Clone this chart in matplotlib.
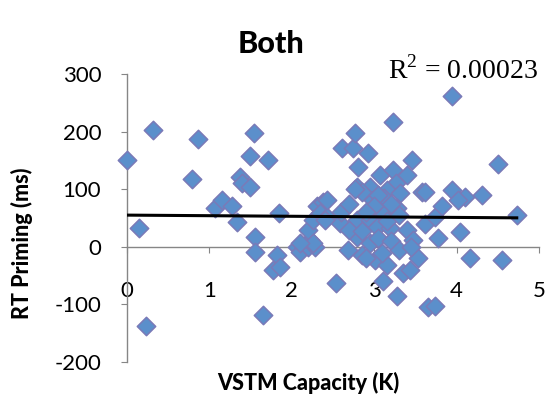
import numpy as np
import matplotlib
matplotlib.use("Agg")
import matplotlib.pyplot as plt

# VSTM capacity (K) vs RT priming (ms)
vstm_k = [0.00, 0.15, 0.32, 0.23, 0.86, 0.79,
          1.07, 1.15, 1.27, 1.33, 1.37, 1.40, 1.49, 1.49, 1.54, 1.55, 1.55, 1.71, 1.65,
          1.84, 1.82, 1.77, 1.86, 2.06, 2.10, 2.20, 2.28, 2.22, 2.20, 2.26, 2.31, 2.38,
          2.34, 2.43, 2.54, 2.61, 2.74, 2.77, 2.92, 2.80, 3.23, 3.07, 3.46, 3.23, 3.40,
          3.27, 2.79, 2.95, 3.16, 3.31, 3.58, 2.43, 2.99, 3.12, 2.58, 2.40, 2.79, 2.95,
          3.11, 3.28, 3.03, 3.19, 3.40, 3.47, 3.62, 3.74, 3.77, 2.79, 2.95, 2.68, 2.85,
          3.01, 3.16, 3.35, 3.43, 3.53, 3.11, 3.28, 3.65, 3.74, 2.26, 2.10, 2.85, 3.05,
          3.20, 3.00, 2.90, 3.15, 3.30, 2.70, 2.85, 3.05, 3.20, 3.30, 2.90, 3.10, 3.45,
          2.60, 2.70, 2.77, 3.94, 4.50, 3.62, 3.94, 4.10, 4.31, 4.02, 3.82, 4.04, 4.73,
          4.16, 4.55]
rt_priming = [151, 32, 202, -138, 188, 117,
              68, 82, 70, 43, 122, 110, 103, 158, 198, 17, -9, 150, -118,
              59, -14, -40, -35, 0, -9, 0, 0, 12, 30, 47, 70, 78,
              59, 52, -63, 172, 172, 198, 163, 139, 216, 125, 150, 134, 125,
              111, 103, 104, 99, 94, 96, 82, 82, 85, 42, 47, 47, 47,
              59, 68, 35, 33, 30, 12, 40, 52, 16, 17, 7, -5, -14,
              -23, -31, -45, -40, -20, -60, -86, -104, -103, 7, 7, 95, 90,
              75, 70, 60, 45, 55, 30, 28, 15, 10, -5, -20, -10, 0,
              60, 75, 100, 261, 143, 96, 99, 87, 90, 82, 70, 26, 56,
              -20, -23]

# Excel linear trendline
trend_intercept = 55.0
trend_slope = -1.0
r2_label = "R$^2$ = 0.00023"

x_ticks = [0, 1, 2, 3, 4, 5]
y_ticks = [-200, -100, 0, 100, 200, 300]

plt.rcParams['font.family'] = ['Lato', 'DejaVu Sans']
plt.rcParams['mathtext.fontset'] = 'custom'
plt.rcParams['mathtext.rm'] = 'Liberation Serif'

fig = plt.figure(figsize=(5.49, 4.04), dpi=100)
W, H = 549, 404
ax = fig.add_axes([127 / W, 1 - 362 / H, 412 / W, 288 / H])

ax.scatter(vstm_k, rt_priming, marker='D', s=88, facecolor='#5B8FCB',
           edgecolor='#7A7AB8', linewidth=1.1, zorder=3, clip_on=False)

tx = np.array([0, max(vstm_k)])
ax.plot(tx, trend_intercept + trend_slope * tx, color='black', lw=2.2, zorder=4)

ax.set_xlim(0, 5)
ax.set_ylim(-200, 300)
ax.set_xticks(x_ticks)
ax.set_yticks(y_ticks)
ax.set_xticklabels([str(v) for v in x_ticks])
ax.set_yticklabels([str(v) for v in y_ticks])

for side in ['top', 'right']:
    ax.spines[side].set_visible(False)
ax.spines['bottom'].set_position(('data', 0))
for side in ['left', 'bottom']:
    ax.spines[side].set_color('#868686')
    ax.spines[side].set_linewidth(1.0)

ax.tick_params(axis='x', direction='out', length=4.5, color='#868686',
               pad=20, labelsize=16)
ax.tick_params(axis='y', direction='out', length=4.5, color='#868686',
               pad=14, labelsize=16)

fig.text(271 / W, 1 - 44 / H, 'Both', ha='center', va='center',
         fontsize=22, fontweight='black')
fig.text(308 / W, 1 - 383 / H, 'VSTM Capacity (K)', ha='center', va='center',
         fontsize=15.5, fontweight='black')
fig.text(22 / W, 1 - 243 / H, 'RT Priming (ms)', ha='center', va='center',
         rotation=90, fontsize=15.5, fontweight='black')
fig.text(388 / W, 1 - 70 / H, r2_label, ha='left', va='center',
         fontsize=20, family=['Liberation Serif', 'DejaVu Serif'])

fig.savefig('out.png', dpi=100)
